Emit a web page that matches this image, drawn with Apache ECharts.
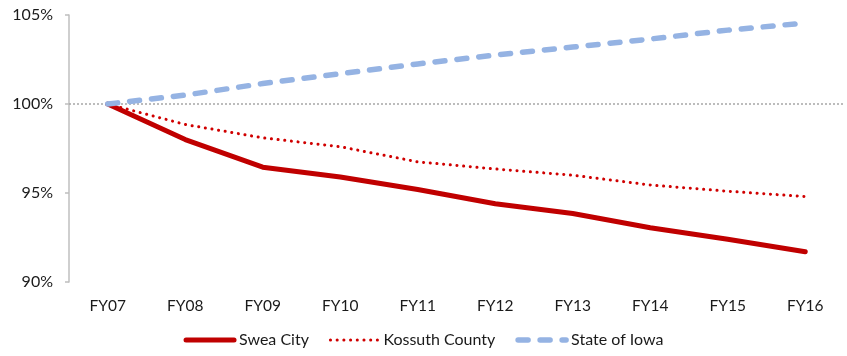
<!DOCTYPE html>
<html>
<head>
<meta charset="utf-8">
<script src="https://cdn.jsdelivr.net/npm/echarts@6/dist/echarts.min.js"></script>
<style>
  html, body { margin: 0; padding: 0; background: #fff; }
  #chart { width: 847px; height: 356px; }
</style>
</head>
<body>
<div id="chart"></div>
<script>
// Fiscal years on the category axis
const years = ['FY07', 'FY08', 'FY09', 'FY10', 'FY11', 'FY12', 'FY13', 'FY14', 'FY15', 'FY16'];

// Index values, FY07 = 100%
const sweaCity = [100, 98.0, 96.45, 95.9, 95.2, 94.4, 93.85, 93.05, 92.4, 91.7];
const kossuthCounty = [100, 98.85, 98.1, 97.6, 96.75, 96.35, 96.0, 95.45, 95.1, 94.8];
const stateOfIowa = [100, 100.5, 101.15, 101.7, 102.25, 102.75, 103.2, 103.65, 104.15, 104.55];

// Baseline reference level
const baseline = 100;

const font = 'Lato, "Open Sans", "Liberation Sans", sans-serif';
const textColor = '#1a1a1a';

const chart = echarts.init(document.getElementById('chart'), null, { renderer: 'canvas' });

chart.setOption({
  animation: false,
  backgroundColor: '#ffffff',
  grid: { left: 69, right: 3, top: 15, bottom: 74, containLabel: false },
  legend: {
    bottom: 3,
    left: 'center',
    itemWidth: 48,
    itemHeight: 16,
    itemGap: 20,
    itemStyle: { opacity: 0 },
    lineStyle: { width: 'inherit', type: 'inherit', cap: 'round' },
    textStyle: { fontFamily: font, fontSize: 16, color: textColor },
    data: ['Swea City', 'Kossuth County', 'State of Iowa']
  },
  xAxis: {
    type: 'category',
    data: years,
    boundaryGap: true,
    axisLine: { show: false },
    axisTick: { show: false },
    axisLabel: { fontFamily: font, fontSize: 15.5, color: textColor, margin: 16 }
  },
  yAxis: {
    type: 'value',
    min: 90,
    max: 105,
    interval: 5,
    axisLine: { show: true, lineStyle: { color: '#bfbfbf', width: 1.5 } },
    axisTick: { show: true, length: 4, lineStyle: { color: '#bfbfbf', width: 1.5 } },
    splitLine: { show: false },
    axisLabel: {
      fontFamily: font, fontSize: 16, color: textColor, margin: 16,
      formatter: v => v + '%'
    }
  },
  series: [
    {
      name: 'Swea City',
      type: 'line',
      data: sweaCity,
      symbol: 'none',
      z: 3,
      lineStyle: { color: '#c00000', width: 5, cap: 'round', join: 'round' },
      itemStyle: { color: '#c00000' },
      markLine: {
        silent: true,
        symbol: 'none',
        label: { show: false },
        z: 1,
        lineStyle: { color: '#a6a6a6', width: 1.5, type: [2, 2] },
        data: [{ yAxis: baseline }]
      }
    },
    {
      name: 'Kossuth County',
      type: 'line',
      data: kossuthCounty,
      symbol: 'none',
      z: 4,
      lineStyle: { color: '#d00000', width: 3, type: [0.1, 6.6], cap: 'round' },
      itemStyle: { color: '#d00000' }
    },
    {
      name: 'State of Iowa',
      type: 'line',
      data: stateOfIowa,
      symbol: 'none',
      z: 5,
      lineStyle: { color: '#95b3e3', width: 5.5, type: [10, 12], cap: 'round' },
      itemStyle: { color: '#95b3e3' }
    }
  ]
});
</script>
</body>
</html>
